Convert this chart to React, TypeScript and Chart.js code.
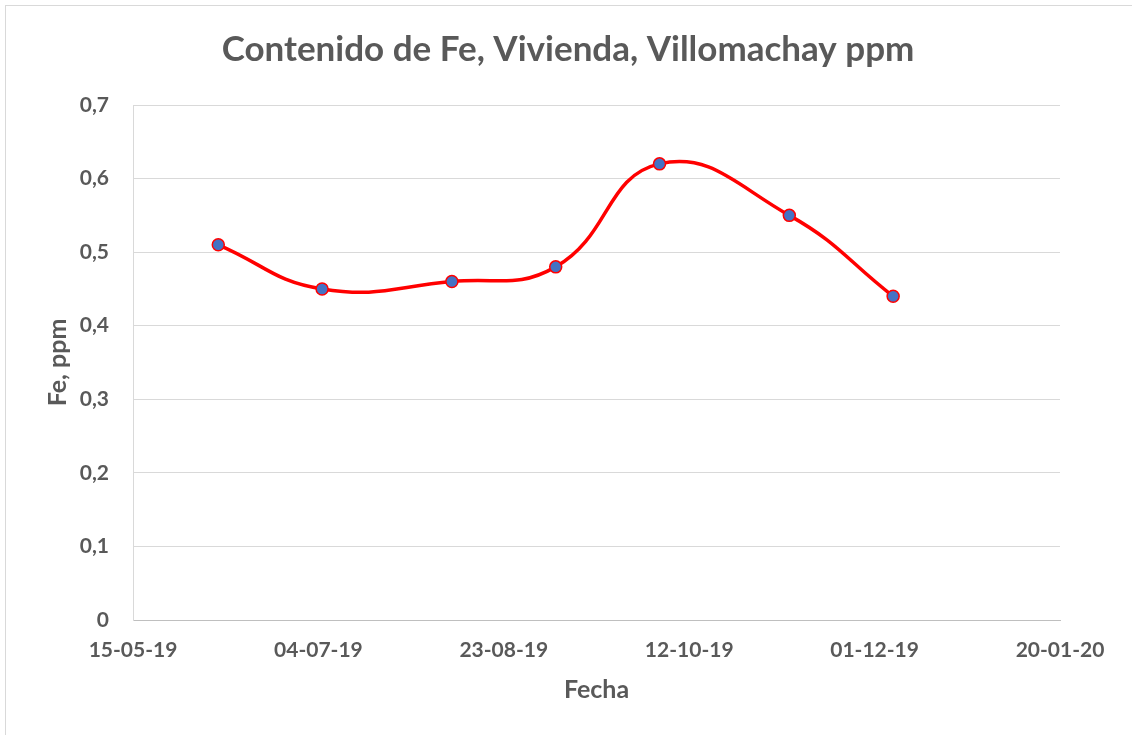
import React, { useEffect, useRef } from "react";
import { Chart, registerables } from "chart.js";

Chart.register(...registerables);

const sampleDates: string[] = [
  "2019-06-07",
  "2019-07-05",
  "2019-08-09",
  "2019-09-06",
  "2019-10-04",
  "2019-11-08",
  "2019-12-06",
];
const feValues: number[] = [0.51, 0.45, 0.46, 0.48, 0.62, 0.55, 0.44];

const axisStartDate = "2019-05-15";
const axisEndDate = "2020-01-20";
const xTickStepDays = 50;
const yTickStep = 0.1;
const yMin = 0;
const yMax = 0.7;

const chartTitle = "Contenido de Fe, Vivienda, Villomachay ppm";
const xAxisTitle = "Fecha";
const yAxisTitle = "Fe, ppm";

const DAY = 86400000;
const toDay = (s: string) => {
  const [y, m, d] = s.split("-").map(Number);
  return Math.round(Date.UTC(y, m - 1, d) / DAY);
};
const baseDay = toDay(axisStartDate);
const fmtDate = (dayOffset: number) => {
  const dt = new Date((baseDay + dayOffset) * DAY);
  const dd = String(dt.getUTCDate()).padStart(2, "0");
  const mm = String(dt.getUTCMonth() + 1).padStart(2, "0");
  const yy = String(dt.getUTCFullYear() % 100).padStart(2, "0");
  return `${dd}-${mm}-${yy}`;
};

const FONT = "Lato, 'Open Sans', sans-serif";
const TEXT = "#595959";

export default function App() {
  const ref = useRef<HTMLCanvasElement | null>(null);
  useEffect(() => {
    if (!ref.current) return;
    const points = sampleDates.map((d, i) => ({ x: toDay(d) - baseDay, y: feValues[i] }));
    const decorPlugin = {
      id: "decor",
      beforeDraw(chart: any) {
        const ctx = chart.ctx;
        ctx.save();
        ctx.fillStyle = "#ffffff";
        ctx.fillRect(0, 0, chart.width, chart.height);
        ctx.strokeStyle = "#d9d9d9";
        ctx.lineWidth = 1;
        ctx.strokeRect(5.5, 5.5, chart.width + 20, chart.height + 20);
        ctx.restore();
      },
      afterDraw(chart: any) {
        const ctx = chart.ctx;
        ctx.save();
        ctx.fillStyle = TEXT;
        ctx.font = `bold 35px ${FONT}`;
        ctx.textAlign = "center";
        ctx.textBaseline = "middle";
        ctx.fillText(chartTitle, 568, 50);
        ctx.restore();
      },
    };
    const chart = new Chart(ref.current, {
      type: "line",
      data: {
        datasets: [
          {
            data: points,
            borderColor: "#ff0000",
            borderWidth: 3.5,
            tension: 0.45,
            pointRadius: 6,
            pointHoverRadius: 6,
            pointBackgroundColor: "#4472c4",
            pointBorderColor: "#ff0000",
            pointBorderWidth: 1.5,
            fill: false,
          },
        ],
      },
      options: {
        responsive: false,
        animation: false,
        layout: { padding: { left: 0, right: 72, top: 105, bottom: 0 } },
        plugins: {
          legend: { display: false },
          tooltip: { enabled: false },
          title: { display: false },
        },
        scales: {
          x: {
            type: "linear",
            min: 0,
            max: toDay(axisEndDate) - baseDay,
            afterFit(scale: any) {
              scale.height = 115;
            },
            ticks: {
              stepSize: xTickStepDays,
              color: TEXT,
              font: { family: FONT, size: 21, weight: "bold" },
              padding: 18,
              maxRotation: 0,
              callback: (v: any) => fmtDate(Number(v)),
            },
            grid: { display: false, drawTicks: false },
            border: { display: true, color: "#bfbfbf", width: 1 },
            title: {
              display: true,
              text: xAxisTitle,
              color: TEXT,
              font: { family: FONT, size: 25, weight: "bold" },
              padding: { top: 0, bottom: 30 },
            },
          },
          y: {
            type: "linear",
            min: yMin,
            max: yMax,
            afterFit(scale: any) {
              scale.width = 133;
            },
            ticks: {
              stepSize: yTickStep,
              color: TEXT,
              font: { family: FONT, size: 21, weight: "bold" },
              padding: 24,
              callback: (v: any) => {
                const n = Math.round(Number(v) * 10) / 10;
                return n === 0 ? "0" : n.toFixed(1).replace(".", ",");
              },
            },
            grid: {
              color: (c: any) => (c.tick && c.tick.value === 0 ? "#bfbfbf" : "#d9d9d9"),
              lineWidth: 1,
              drawTicks: false,
            },
            border: { display: true, color: "#d9d9d9", width: 1 },
            title: {
              display: true,
              text: yAxisTitle,
              color: TEXT,
              font: { family: FONT, size: 25, weight: "bold" },
              padding: { top: 43, bottom: 0 },
            },
          },
        },
      },
      plugins: [decorPlugin],
    } as any);
    return () => chart.destroy();
  }, []);
  return (
    <div style={{ position: "fixed", left: 0, top: 0, width: 1132, height: 735, background: "#fff" }}>
      <canvas ref={ref} width={1132} height={735} style={{ display: "block" }} />
    </div>
  );
}
